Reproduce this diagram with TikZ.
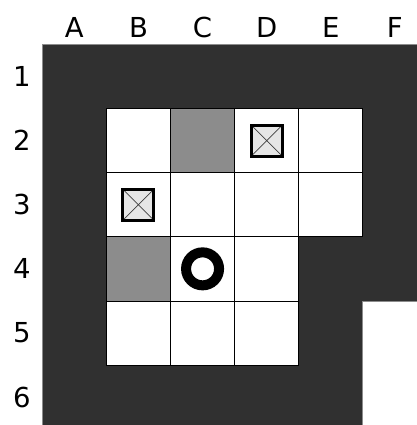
\documentclass[tikz,border=0pt]{standalone}
\usepackage{fontspec}
\setmainfont{DejaVu Sans}
\usepackage{xcolor}
\definecolor{wall}{HTML}{303030}
\definecolor{goal}{HTML}{8C8C8C}
\definecolor{cratefill}{HTML}{E6E6E6}

\begin{document}
\begin{tikzpicture}[x=64.1pt, y=-64.1pt, font=\fontsize{27.5pt}{30pt}\selectfont,
  floor/.style={draw=black, line width=0.8pt, fill=white},
  target/.style={draw=black, line width=0.8pt, fill=goal},
  crate/.style={draw=black, line width=3pt, fill=cratefill, minimum size=31pt, inner sep=0pt,
    path picture={\draw[line width=0.7pt, black!75] (path picture bounding box.north west) -- (path picture bounding box.south east)
      (path picture bounding box.north east) -- (path picture bounding box.south west);}},
  player/.style={circle, draw=black, line width=10pt, minimum size=33pt, inner sep=0pt}]
  \useasboundingbox (-0.66,-0.694) rectangle (5.845,5.936);
  % walls
  \fill[wall, draw=black!45, line width=0.8pt] (0,0) -- (6,0) -- (6,4) -- (5,4) -- (5,6) -- (0,6) -- cycle;
  % floor cells
  \foreach \c/\r in {1/1,3/1,4/1,1/2,2/2,3/2,4/2,2/3,3/3,1/4,2/4,3/4}
    \draw[floor] (\c,\r) rectangle ++(1,1);
  \foreach \c/\r in {2/1,1/3}
    \draw[target] (\c,\r) rectangle ++(1,1);
  % labels
  \foreach \l [count=\i from 0] in {A,B,C,D,E,F}
    \node (col\l) at (\i+0.5,-0.26) {\l};
  \foreach \i in {1,...,6}
    \node (row\i) at (-0.32,\i-0.5) {\i};
  % pieces
  \node[crate] (crateD) at (3.5,1.5) {};
  \node[crate] (crateB) at (1.5,2.5) {};
  \node[player] (man) at (2.5,3.5) {};
\end{tikzpicture}
\end{document}
